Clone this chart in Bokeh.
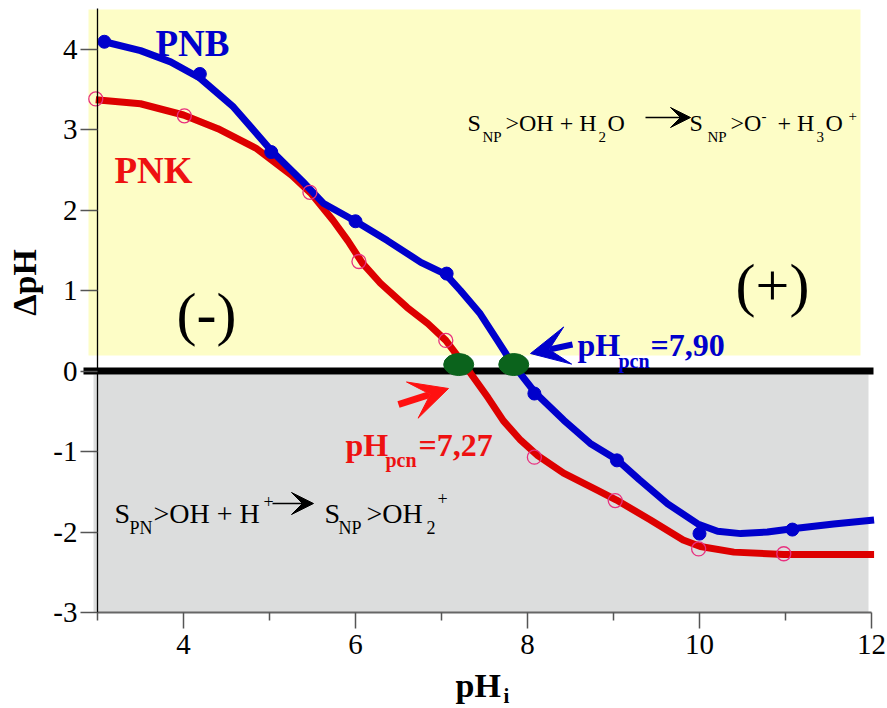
import math
from bokeh.plotting import figure
from bokeh.models import Range1d, FixedTicker, Label, Arrow, VeeHead
from bokeh.embed import file_html
from bokeh.resources import INLINE

# ---------------- data ----------------
# measured points
pnb_ph = [3.08, 4.19, 5.02, 6.00, 7.06, 8.08, 9.04, 10.00, 11.08]
pnb_dph = [4.09, 3.69, 2.72, 1.86, 1.21, -0.28, -1.11, -2.02, -1.97]

pnk_ph = [2.98, 4.01, 5.47, 6.04, 7.05, 8.08, 9.02, 9.99, 10.98]
pnk_dph = [3.38, 3.17, 2.22, 1.36, 0.38, -1.07, -1.61, -2.21, -2.27]

# fitted curves
pnb_fit_ph = [3.08, 3.50, 3.85, 4.19, 4.58, 5.02, 5.38, 5.63, 6.00, 6.37, 6.76,
              7.05, 7.22, 7.45, 7.65, 7.80, 7.95, 8.09, 8.42, 8.73, 9.05, 9.30,
              9.63, 9.98, 10.21, 10.48, 10.79, 11.08, 11.56, 12.03]
pnb_fit_dph = [4.09, 3.98, 3.84, 3.64, 3.28, 2.74, 2.36, 2.08, 1.86, 1.62, 1.35,
               1.20, 1.00, 0.71, 0.38, 0.13, -0.08, -0.27, -0.61, -0.90, -1.11, -1.35,
               -1.65, -1.90, -1.99, -2.02, -2.00, -1.96, -1.90, -1.85]

pnk_fit_ph = [2.98, 3.50, 4.00, 4.40, 4.84, 5.26, 5.48, 5.74, 5.91, 6.08, 6.29,
              6.60, 6.84, 7.05, 7.20, 7.34, 7.54, 7.72, 7.92, 8.12, 8.42, 8.81,
              9.03, 9.43, 9.81, 10.01, 10.40, 10.98, 12.03]
pnk_fit_dph = [3.37, 3.32, 3.18, 3.01, 2.77, 2.43, 2.21, 1.87, 1.62, 1.34, 1.09,
               0.79, 0.59, 0.38, 0.17, -0.03, -0.33, -0.62, -0.86, -1.05, -1.27, -1.48,
               -1.60, -1.85, -2.10, -2.18, -2.25, -2.28, -2.28]

# points of zero charge (green marks)
pcn_ph = [7.20, 7.84]
pcn_dph = [0.08, 0.08]

x_ticks = [4, 6, 8, 10, 12]
x_minor = [3, 5, 7, 9, 11]
y_ticks = [-3, -2, -1, 0, 1, 2, 3, 4]

# ---------------- layout ----------------
W, H = 887, 708
PXX = 86.0          # pixels per pH unit
PXY = 80.5          # pixels per dpH unit
X0 = 3 - 97 / PXX
X1 = X0 + W / PXX
Y1 = 370.5 / PXY
Y0 = Y1 - H / PXY


def dx(px):
    return X0 + px / PXX


def dy(py):
    return Y1 - py / PXY


SERIF = "Liberation Serif"
BLUE = "#0000CC"
RED = "#DD0000"
RED_TXT = "#EE1111"

p = figure(width=W, height=H, x_range=Range1d(X0, X1), y_range=Range1d(Y0, Y1),
           output_backend="svg", toolbar_location=None,
           min_border_left=0, min_border_right=0, min_border_top=0,
           min_border_bottom=0)
p.grid.visible = False
p.outline_line_color = None
p.background_fill_color = "white"
p.border_fill_color = "white"

# background regions
p.quad(left=[dx(88)], right=[dx(860)], top=[dy(9)], bottom=[dy(355)],
       fill_color="#FDFDC6", line_color=None)
p.quad(left=[dx(93)], right=[dx(868)], top=[dy(374)], bottom=[-3.0],
       fill_color="#DCDDDD", line_color=None)
# zero line
p.line([dx(83), dx(873)], [0, 0], line_color="black", line_width=7)

# curves
p.line(pnk_fit_ph, pnk_fit_dph, line_color=RED, line_width=7, line_join="round")
p.line(pnb_fit_ph, pnb_fit_dph, line_color=BLUE, line_width=7, line_join="round")
p.scatter(pnk_ph, pnk_dph, marker="circle", size=14, fill_color=None,
          line_color="#E8307F", line_width=1.3)
p.scatter(pnb_ph, pnb_dph, marker="circle", size=13, fill_color=BLUE, line_color=BLUE)

# green marks at the crossing points
p.ellipse(pcn_ph, pcn_dph, width=30 / PXX, height=22 / PXY,
          fill_color="#0B631C", line_color="#0B631C")

# ---------------- axes ----------------
p.xaxis.fixed_location = -3
p.xaxis.ticker = FixedTicker(ticks=x_ticks, minor_ticks=x_minor)
p.xaxis.bounds = (3, 12)
p.xaxis.axis_line_color = "#666666"
p.xaxis.axis_line_width = 2
p.xaxis.major_tick_line_color = "#555555"
p.xaxis.minor_tick_line_color = "#555555"
p.xaxis.major_tick_line_width = 1.5
p.xaxis.minor_tick_line_width = 1.5
p.xaxis.major_tick_out = 16
p.xaxis.major_tick_in = 0
p.xaxis.minor_tick_out = 8
p.xaxis.minor_tick_in = 0
p.xaxis.major_label_text_font = SERIF
p.xaxis.major_label_text_font_size = "29px"
p.xaxis.major_label_text_color = "black"
p.xaxis.major_label_standoff = 6

p.yaxis.fixed_location = 3
p.yaxis.ticker = FixedTicker(ticks=y_ticks)
p.yaxis.bounds = (-3, 4.5)
p.yaxis.axis_line_color = "black"
p.yaxis.axis_line_width = 1.3
p.yaxis.major_tick_line_color = "#555555"
p.yaxis.major_tick_line_width = 1.5
p.yaxis.major_tick_out = 17
p.yaxis.major_tick_in = 0
p.yaxis.minor_tick_line_color = None
p.yaxis.major_label_text_font = SERIF
p.yaxis.major_label_text_font_size = "29px"
p.yaxis.major_label_text_color = "black"
p.yaxis.major_label_standoff = 3
p.yaxis.major_label_overrides = {t: str(t) for t in y_ticks}


# ---------------- texts ----------------
def lab(text, px, py, size, color="black", bold=False, align="left",
        baseline="alphabetic", angle=0.0):
    p.add_layout(Label(x=dx(px), y=dy(py), text=text, text_font=SERIF,
                       text_font_size=f"{size}px", text_color=color,
                       text_font_style="bold" if bold else "normal",
                       text_align=align, text_baseline=baseline, angle=angle))


# axis titles
lab("ΔpH", 24, 282, 34, bold=True, align="center", baseline="middle",
    angle=math.pi / 2)
lab("pH", 455, 685, 34, bold=True)
lab("i", 503, 695, 21, bold=True)

# series names
lab("PNB", 155, 43, 37, color=BLUE, bold=True)
lab("PNK", 114, 170, 37, color=RED_TXT, bold=True)

# sign regions
lab("(+)", 772, 284, 60, align="center")
lab("(-)", 206, 313, 60, align="center")

# pH pcn labels
lab("pH", 577, 344, 32, color=BLUE, bold=True)
lab("pcn", 618, 360, 20, color=BLUE, bold=True)
lab("=7,90", 650, 344, 32, color=BLUE, bold=True)
lab("pH", 345, 444, 32, color=RED_TXT, bold=True)
lab("pcn", 385, 459, 20, color=RED_TXT, bold=True)
lab("=7,27", 418, 444, 32, color=RED_TXT, bold=True)

# arrows to crossing points
p.add_layout(Arrow(end=VeeHead(size=38, fill_color=BLUE, line_color=BLUE),
                   x_start=dx(572), y_start=dy(344), x_end=dx(530), y_end=dy(353),
                   line_color=BLUE, line_width=6))
p.add_layout(Arrow(end=VeeHead(size=38, fill_color="#FF1010", line_color="#FF1010"),
                   x_start=dx(398), y_start=dy(404), x_end=dx(448), y_end=dy(388),
                   line_color="#FF1010", line_width=7))

# reaction (top, basic side)
for t, x, y, s in [("S", 467, 122, 24), ("NP", 482, 136, 15), (">OH + H", 505, 122, 24),
                   ("2", 598, 136, 15), ("O", 607, 122, 24),
                   ("S", 689, 122, 24), ("NP", 707, 136, 15), (">O", 730, 122, 24),
                   ("-", 761, 115, 15), ("+ H", 777, 122, 24), ("3", 816, 136, 15),
                   ("O", 825, 122, 24), ("+", 848, 115, 15)]:
    lab(t, x, y, s)
p.add_layout(Arrow(end=VeeHead(size=20, fill_color="black", line_color="black"),
                   x_start=dx(645), y_start=dy(117), x_end=dx(690), y_end=dy(117),
                   line_color="black", line_width=1.5))

# reaction (bottom, acid side)
for t, x, y, s in [("S", 114, 513, 28), ("PN", 129, 527, 18), (">OH + H", 153, 513, 28),
                   ("+", 263, 501, 18), ("S", 324, 513, 28), ("NP", 338, 527, 18),
                   (">OH", 366, 513, 28), ("2", 426, 527, 18), ("+", 437, 498, 18)]:
    lab(t, x, y, s)
p.add_layout(Arrow(end=VeeHead(size=22, fill_color="black", line_color="black"),
                   x_start=dx(272), y_start=dy(503), x_end=dx(313), y_end=dy(503),
                   line_color="black", line_width=1.5))

open("out.html", "w").write(file_html(p, INLINE))
